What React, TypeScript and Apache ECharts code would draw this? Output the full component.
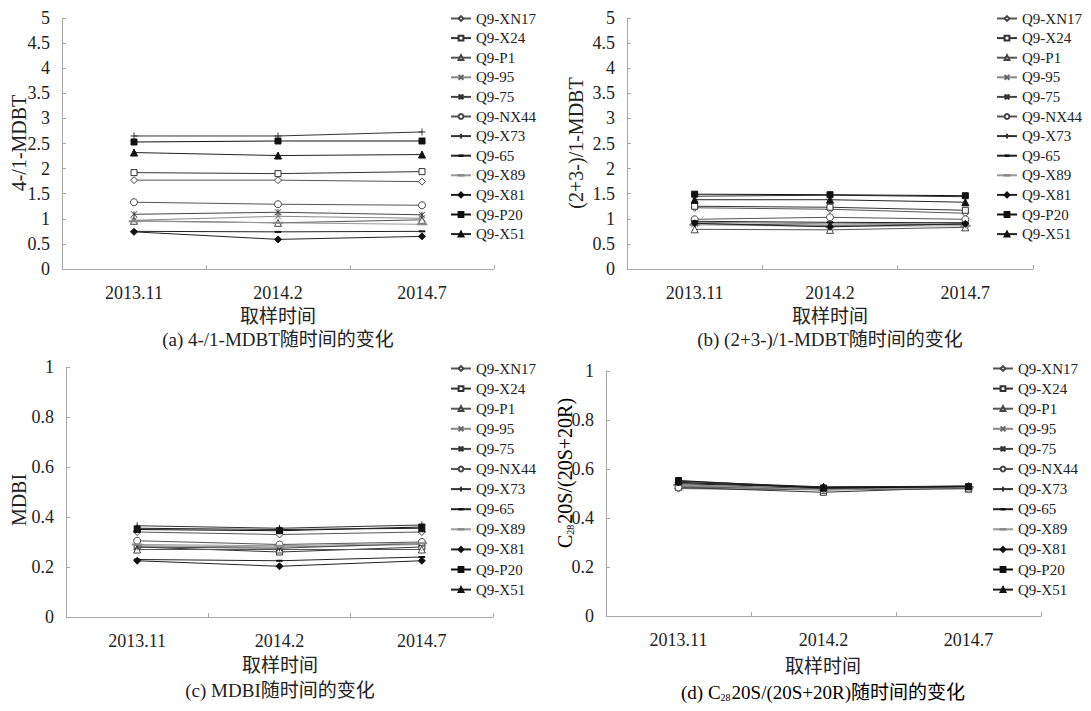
import React, { useEffect, useRef } from "react";
import * as echarts from "echarts";

const categories = ["2013.11", "2014.2", "2014.7"];
const seriesNames = [
  "Q9-XN17", "Q9-X24", "Q9-P1", "Q9-95", "Q9-75", "Q9-NX44",
  "Q9-X73", "Q9-65", "Q9-X89", "Q9-X81", "Q9-P20", "Q9-X51",
];

// (a) 4-/1-MDBT
const mdbt41Values: number[][] = [
  [1.77, 1.77, 1.74],
  [1.92, 1.9, 1.94],
  [0.96, 0.92, 0.98],
  [0.97, 1.05, 1.01],
  [1.09, 1.13, 1.08],
  [1.33, 1.29, 1.27],
  [2.65, 2.65, 2.73],
  [0.75, 0.74, 0.75],
  [0.95, 0.92, 0.89],
  [0.74, 0.59, 0.65],
  [2.53, 2.55, 2.55],
  [2.32, 2.26, 2.28],
];

// (b) (2+3-)/1-MDBT
const mdbt231Values: number[][] = [
  [1.22, 1.19, 1.11],
  [1.25, 1.23, 1.17],
  [0.79, 0.78, 0.83],
  [0.93, 0.9, 0.92],
  [0.9, 0.87, 0.89],
  [0.99, 1.03, 0.99],
  [1.45, 1.47, 1.44],
  [0.95, 0.93, 0.92],
  [0.88, 0.85, 0.86],
  [0.91, 0.84, 0.9],
  [1.49, 1.48, 1.46],
  [1.38, 1.38, 1.33],
];

// (c) MDBI
const mdbiValues: number[][] = [
  [0.34, 0.33, 0.34],
  [0.28, 0.26, 0.28],
  [0.27, 0.27, 0.27],
  [0.285, 0.28, 0.29],
  [0.28, 0.275, 0.295],
  [0.305, 0.29, 0.3],
  [0.365, 0.355, 0.368],
  [0.23, 0.225, 0.24],
  [0.29, 0.285, 0.295],
  [0.225, 0.203, 0.225],
  [0.35, 0.345, 0.36],
  [0.355, 0.35, 0.355],
];

// (d) C28 20S/(20S+20R)
const c28Values: number[][] = [
  [0.52, 0.515, 0.52],
  [0.525, 0.505, 0.525],
  [0.53, 0.515, 0.52],
  [0.53, 0.52, 0.525],
  [0.535, 0.52, 0.525],
  [0.525, 0.52, 0.52],
  [0.545, 0.525, 0.53],
  [0.54, 0.525, 0.53],
  [0.535, 0.515, 0.525],
  [0.545, 0.525, 0.528],
  [0.553, 0.522, 0.528],
  [0.55, 0.527, 0.53],
];

const yTicksAB = { min: 0, max: 5, interval: 0.5 };
const yTicksCD = { min: 0, max: 1, interval: 0.2 };

const SERIF = "'Liberation Serif', 'Times New Roman', 'Noto Sans CJK SC', serif";

const PX = "path://M0,0L10,10M10,0L0,10";
const PSTAR = "path://M0,0L10,10M10,0L0,10M5,0L5,10";
const PPLUS = "path://M5,0L5,10M0,5L10,5";
// square bounding box (zero-length corner strokes) so the legend does not stretch the dash
const PDASH = "path://M0,0L0,0M2,4.5L8,4.5L8,5.5L2,5.5ZM10,10L10,10";
const PLDASH = "path://M0,0L0,0M0,4.5L10,4.5L10,5.5L0,5.5ZM10,10L10,10";

const markerStyles = [
  { symbol: "diamond", size: 7, fill: "#fff", stroke: "#444", line: "#555" },
  { symbol: "rect", size: 6, fill: "#fff", stroke: "#333", line: "#333" },
  { symbol: "triangle", size: 7, fill: "#fff", stroke: "#444", line: "#555" },
  { symbol: PX, size: 6, fill: "#666", stroke: "#666", line: "#888" },
  { symbol: PSTAR, size: 6, fill: "#333", stroke: "#333", line: "#444" },
  { symbol: "circle", size: 7, fill: "#fff", stroke: "#444", line: "#555" },
  { symbol: PPLUS, size: 7, fill: "#333", stroke: "#333", line: "#333" },
  { symbol: PDASH, size: 10, fill: "#111", stroke: "#111", line: "#222" },
  { symbol: PLDASH, size: 10, fill: "#888", stroke: "#888", line: "#999" },
  { symbol: "diamond", size: 7, fill: "#111", stroke: "#111", line: "#222" },
  { symbol: "rect", size: 6, fill: "#111", stroke: "#111", line: "#111" },
  { symbol: "triangle", size: 7, fill: "#111", stroke: "#111", line: "#222" },
];

const panels = [
  { values: mdbt41Values, ticks: yTicksAB, grid: { left: 62, top: 18, width: 432, height: 251 }, legend: { left: 450, top: 11, gap: 4.6 } },
  { values: mdbt231Values, ticks: yTicksAB, grid: { left: 627, top: 18, width: 406, height: 251 }, legend: { left: 996, top: 11, gap: 4.6 } },
  { values: mdbiValues, ticks: yTicksCD, grid: { left: 66, top: 367, width: 427, height: 250 }, legend: { left: 450, top: 361, gap: 5.1 } },
  { values: c28Values, ticks: yTicksCD, grid: { left: 606, top: 371, width: 435, height: 245 }, legend: { left: 992, top: 361, gap: 5.1 } },
];

export default function App() {
  const ref = useRef<HTMLDivElement>(null);
  useEffect(() => {
    document.body.style.margin = "0";
    if (!ref.current) return;
    const chart = echarts.init(ref.current, undefined, { renderer: "svg" });

    const grids = panels.map((p) => ({ ...p.grid, containLabel: false }));
    const xAxes = panels.map((p, i) => ({
      type: "category",
      gridIndex: i,
      data: categories,
      boundaryGap: true,
      axisLine: { lineStyle: { color: "#a8a8a8", width: 1 } },
      axisTick: { show: true, inside: true, length: 4, lineStyle: { color: "#a8a8a8" } },
      axisLabel: { color: "#222", fontSize: 18, fontFamily: SERIF, margin: 15 },
      splitLine: { show: false },
    }));
    const yAxes = panels.map((p, i) => ({
      type: "value",
      gridIndex: i,
      min: p.ticks.min,
      max: p.ticks.max,
      interval: p.ticks.interval,
      axisLine: { show: true, lineStyle: { color: "#a8a8a8", width: 1 } },
      axisTick: { show: true, inside: true, length: 4, lineStyle: { color: "#a8a8a8" } },
      axisLabel: { color: "#222", fontSize: 18, fontFamily: SERIF, margin: 12 },
      splitLine: { show: false },
    }));

    const series: any[] = [];
    panels.forEach((p, pi) => {
      seriesNames.forEach((name, si) => {
        const m = markerStyles[si];
        series.push({
          type: "line",
          name,
          xAxisIndex: pi,
          yAxisIndex: pi,
          data: p.values[si],
          symbol: m.symbol,
          symbolSize: m.size,
          symbolKeepAspect: true,
          showAllSymbol: true,
          lineStyle: { color: m.line, width: 1 },
          itemStyle: { color: m.fill, borderColor: m.stroke, borderWidth: 1 },
          emphasis: { disabled: true },
          z: 2 + si,
        });
      });
    });

    const legends = panels.map((p) => ({
      left: p.legend.left,
      top: p.legend.top,
      orient: "vertical",
      data: seriesNames,
      itemWidth: 20,
      itemHeight: 6,
      itemGap: p.legend.gap,
      symbolKeepAspect: true,
      selectedMode: false,
      textStyle: { color: "#222", fontSize: 15, fontFamily: SERIF },
      padding: 0,
    }));

    const cjkStyle = (text: string, x: number, y: number) => ({
      type: "text",
      x,
      y,
      style: {
        text,
        fill: "#222",
        font: `19px ${SERIF}`,
        align: "center",
        verticalAlign: "middle",
      },
    });
    const richBase = { fontSize: 19, fontFamily: SERIF, color: "#222" };
    const richSub = { fontSize: 10, fontFamily: SERIF, color: "#222", padding: [10, 1, 0, 0] };

    const graphic: any[] = [
      cjkStyle("取样时间", 278, 316),
      cjkStyle("(a) 4-/1-MDBT随时间的变化", 278, 339),
      cjkStyle("取样时间", 830, 316),
      cjkStyle("(b) (2+3-)/1-MDBT随时间的变化", 830, 339),
      cjkStyle("取样时间", 280, 665),
      cjkStyle("(c) MDBI随时间的变化", 280, 690),
      cjkStyle("取样时间", 823, 666),
      {
        type: "text",
        x: 823,
        y: 692,
        style: {
          text: "{n|(d) C}{s|28}{n|20S/(20S+20R)随时间的变化}",
          rich: { n: richBase, s: richSub },
          align: "center",
          verticalAlign: "middle",
        },
      },
      {
        type: "text",
        x: 19,
        y: 143,
        rotation: Math.PI / 2,
        style: { text: "4-/1-MDBT", fill: "#222", font: `20px ${SERIF}`, align: "center", verticalAlign: "middle" },
      },
      {
        type: "text",
        x: 576,
        y: 143,
        rotation: Math.PI / 2,
        style: { text: "(2+3-)/1-MDBT", fill: "#222", font: `20px ${SERIF}`, align: "center", verticalAlign: "middle" },
      },
      {
        type: "text",
        x: 19,
        y: 500,
        rotation: Math.PI / 2,
        style: { text: "MDBI", fill: "#222", font: `20px ${SERIF}`, align: "center", verticalAlign: "middle" },
      },
      {
        type: "text",
        x: 565,
        y: 473,
        rotation: Math.PI / 2,
        style: {
          text: "{n|C}{s|28}{n|20S/(20S+20R)}",
          rich: { n: { ...richBase, fontSize: 20 }, s: richSub },
          align: "center",
          verticalAlign: "middle",
        },
      },
    ];

    chart.setOption({
      animation: false,
      backgroundColor: "#fff",
      grid: grids,
      xAxis: xAxes,
      yAxis: yAxes,
      legend: legends,
      series,
      graphic,
    });
    return () => chart.dispose();
  }, []);
  return <div ref={ref} style={{ width: 1091, height: 711 }} />;
}
